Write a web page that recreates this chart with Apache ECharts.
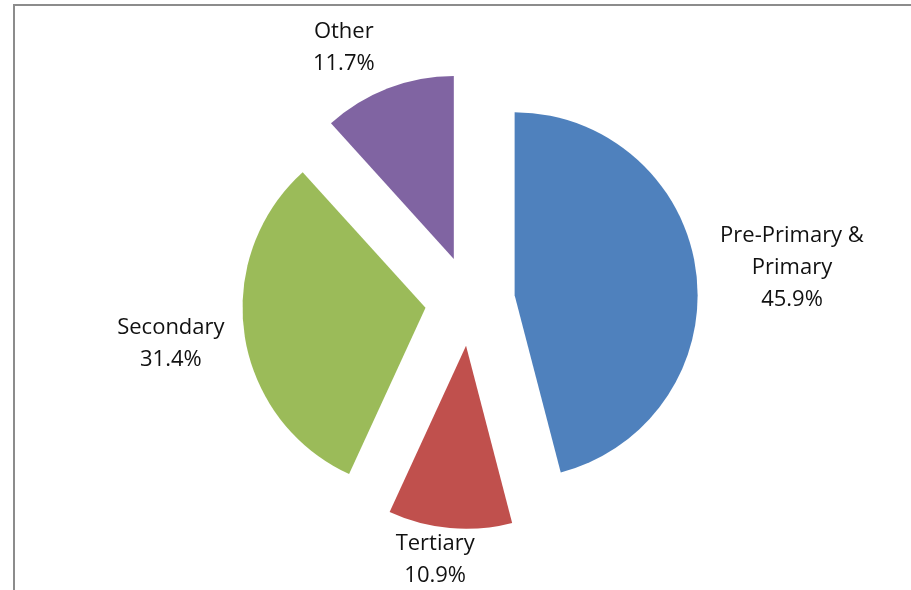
<!DOCTYPE html>
<html><head><meta charset="utf-8">
<script src="https://cdn.jsdelivr.net/npm/echarts@6/dist/echarts.min.js"></script>
<style>html,body{margin:0;padding:0;background:#fff}#c{width:911px;height:590px}</style>
</head><body><div id="c"></div>
<script>
const categories = ['Pre-Primary &\nPrimary', 'Tertiary', 'Secondary', 'Other'];
const values = [45.9, 10.9, 31.4, 11.7];
const colors = ['#4F81BD', '#C0504D', '#9BBB59', '#8064A2'];
// label nudges (style only)
const labelNudge = [[71, -2], [-8, 12], [-49, 5], [-32, -22]];

const chart = echarts.init(document.getElementById('c'), null, {renderer: 'canvas'});
chart.setOption({
  animation: false,
  backgroundColor: '#fff',
  graphic: [{
    type: 'rect', shape: {x: 14, y: 5, width: 1000, height: 1000},
    style: {fill: 'none', stroke: '#8c8c8c', lineWidth: 2}, silent: true
  }],
  series: [{
    type: 'pie',
    center: [470, 301],
    radius: 183,
    startAngle: 90,
    clockwise: true,
    selectedMode: 'multiple',
    selectedOffset: 45,
    label: {
      show: true, position: 'outside',
      fontFamily: 'Open Sans', fontSize: 22, lineHeight: 32, color: '#111',
      formatter: p => p.name + '\n' + p.value.toFixed(1) + '%'
    },
    labelLine: {show: false, length: 20, length2: 0},
    labelLayout: p => ({align: 'center', verticalAlign: 'middle', dx: labelNudge[p.dataIndex][0], dy: labelNudge[p.dataIndex][1]}),
    emphasis: {disabled: true},
    data: categories.map((c, i) => ({name: c, value: values[i], selected: true,
      itemStyle: {color: colors[i]}, select: {itemStyle: {color: colors[i]}}}))
  }]
});
</script></body></html>
